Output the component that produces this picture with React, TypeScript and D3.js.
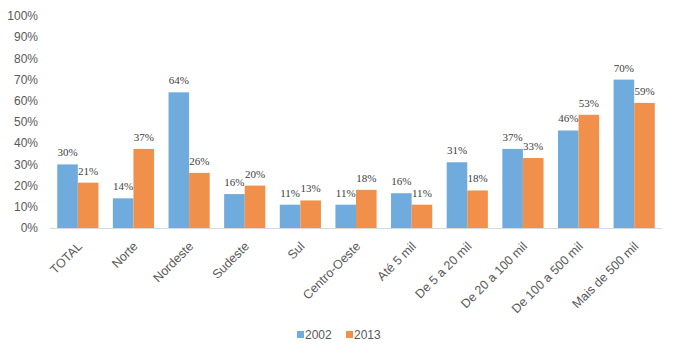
import React from "react";
import * as d3 from "d3";

const categories = ["TOTAL", "Norte", "Nordeste", "Sudeste", "Sul", "Centro-Oeste", "Até 5 mil", "De 5 a 20 mil", "De 20 a 100 mil", "De 100 a 500 mil", "Mais de 500 mil"];
const series2002 = [30, 14, 64, 16, 11, 11, 16.4, 31, 37.3, 46, 70];
const series2013 = [21.4, 37.3, 26, 20, 13, 18, 11, 17.7, 33, 53.4, 59];
const seriesNames = ["2002", "2013"];
const yTicks = [0, 10, 20, 30, 40, 50, 60, 70, 80, 90, 100];

const W = 678, H = 356;
const colors = ["#6FABDD", "#F0904A"];

export default function App() {
  const x = d3.scaleBand<string>().domain(categories).range([50, 662]).paddingInner(0.26).paddingOuter(0.13);
  const sub = d3.scaleBand<string>().domain(seriesNames).range([0, x.bandwidth()]);
  const y = d3.scaleLinear().domain([0, 100]).range([228, 16]);
  const data = [series2002, series2013];
  const font = "'Liberation Sans', Arial, sans-serif";
  return (
    <svg width={W} height={H} style={{ position: "absolute", left: 0, top: 0, background: "#fff" }}>
      <rect x={0} y={0} width={W} height={H} fill="#fff" />
      {yTicks.map((t) => (
        <text key={t} x={38} y={y(t)} dy="0.35em" textAnchor="end" fontFamily={font} fontSize={12} fill="#595959">
          {t}%
        </text>
      ))}
      {data.map((vals, si) =>
        vals.map((v, i) => {
          const bx = (x(categories[i]) as number) + (sub(seriesNames[si]) as number);
          return (
            <g key={`${si}-${i}`}>
              <rect x={bx} y={y(v)} width={sub.bandwidth()} height={y(0) - y(v)} fill={colors[si]} />
            </g>
          );
        })
      )}
      <line x1={50} x2={662} y1={y(0) + 0.5} y2={y(0) + 0.5} stroke="#D9D9D9" strokeWidth={1} />
      {data.map((vals, si) =>
        vals.map((v, i) => {
          const cx = (x(categories[i]) as number) + (sub(seriesNames[si]) as number) + sub.bandwidth() / 2;
          return (
            <text key={`l${si}-${i}`} x={cx} y={y(v) - 8} textAnchor="middle" fontFamily="'Liberation Serif', serif" fontSize={11} fill="#404040">
              {Math.round(v)}%
            </text>
          );
        })
      )}
      {categories.map((c) => {
        const cx = (x(c) as number) + x.bandwidth() / 2;
        return (
          <text key={c} transform={`translate(${cx + 2},${244}) rotate(-45)`} textAnchor="end" dy="0.35em" fontFamily={font} fontSize={12.5} fill="#595959">
            {c}
          </text>
        );
      })}
      {seriesNames.map((s, i) => {
        const lx = i === 0 ? 297 : 346;
        return (
          <g key={s}>
            <rect x={lx} y={331} width={7} height={7} fill={colors[i]} />
            <text x={lx + 8} y={335} dy="0.35em" fontFamily={font} fontSize={12} fill="#595959">
              {s}
            </text>
          </g>
        );
      })}
    </svg>
  );
}
